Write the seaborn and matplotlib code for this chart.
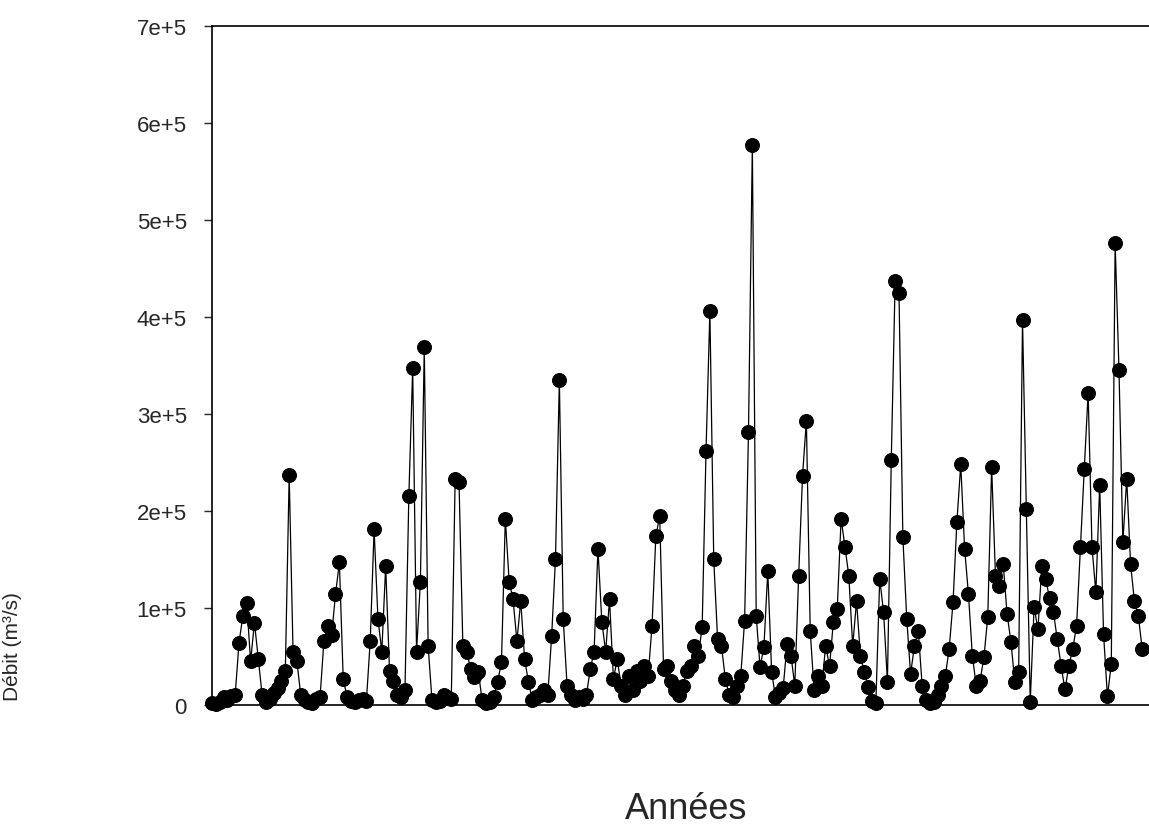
import numpy as np
import pandas as pd
import matplotlib
matplotlib.use("Agg")
import matplotlib.pyplot as plt
from matplotlib.ticker import FuncFormatter
import seaborn as sns

# monthly values, in order
debit = [
    2000, 1000, 3000, 8000, 5000, 9000, 10000, 64000, 92000, 105000,
    45000, 85000, 47000, 10000, 3000, 6000, 12000, 18000, 25000, 35000,
    237000, 55000, 45000, 10000, 5000, 3000, 2000, 6000, 8000, 66000,
    81000, 72000, 114000, 147000, 27000, 8000, 4000, 3000, 5000, 6000,
    4000, 66000, 181000, 89000, 55000, 143000, 35000, 25000, 10000, 8000,
    15000, 215000, 347000, 55000, 127000, 369000, 61000, 5000, 3000, 4000,
    10000, 8000, 6000, 233000, 230000, 61000, 55000, 37000, 29000, 34000,
    5000, 2000, 3000, 8000, 24000, 44000, 192000, 127000, 109000, 66000,
    107000, 47000, 24000, 5000, 8000, 10000, 15000, 10000, 71000, 151000,
    335000, 89000, 20000, 10000, 5000, 8000, 6000, 10000, 37000, 55000,
    161000, 86000, 55000, 109000, 27000, 47000, 20000, 10000, 30000, 15000,
    35000, 25000, 40000, 30000, 81000, 174000, 195000, 37000, 40000, 25000,
    15000, 10000, 20000, 35000, 40000, 61000, 51000, 80000, 262000, 406000,
    150000, 68000, 61000, 27000, 10000, 8000, 20000, 30000, 87000, 281000,
    577000, 92000, 39000, 60000, 138000, 34000, 8000, 12000, 18000, 63000,
    51000, 20000, 133000, 236000, 293000, 76000, 15000, 30000, 20000, 61000,
    40000, 86000, 99000, 192000, 163000, 133000, 61000, 107000, 51000, 34000,
    19000, 4000, 2000, 130000, 96000, 24000, 253000, 437000, 425000, 173000,
    89000, 32000, 61000, 76000, 20000, 5000, 2000, 3000, 10000, 20000,
    30000, 58000, 106000, 189000, 248000, 161000, 114000, 51000, 20000, 25000,
    49000, 91000, 245000, 133000, 123000, 145000, 94000, 65000, 24000, 34000,
    397000, 202000, 3000, 101000, 78000, 143000, 130000, 110000, 96000, 68000,
    40000, 16000, 40000, 58000, 81000, 163000, 243000, 322000, 163000, 116000,
    227000, 73000, 9000, 42000, 476000, 345000, 168000, 233000, 145000, 107000,
    92000, 58000,
]
mois = list(range(len(debit)))

df = pd.DataFrame({"Mois": mois, "Debit": debit})

sns.set_style("white")
plt.rcParams['font.family'] = ['Liberation Sans', 'DejaVu Sans']

fig = plt.figure(figsize=(11.49, 8.29), dpi=100)
ax = fig.add_axes([0.1845, 0.1484, 0.825, 0.819])

sns.lineplot(data=df, x="Mois", y="Debit", ax=ax, color="black", linewidth=0.9,
             marker="o", markersize=10, markeredgecolor="black",
             markerfacecolor="black", alpha=1)
for line in ax.lines:
    line.set_clip_on(False)

ax.set_xlim(0, 245.6)
ax.set_ylim(0, 700000)
ax.set_yticks(np.arange(0, 700001, 100000))
ax.yaxis.set_major_formatter(FuncFormatter(lambda v, p: "0" if v == 0 else f"{int(round(v / 1e5))}e+5"))
ax.set_xticks([])
ax.tick_params(axis="y", direction="out", length=6, width=1, labelsize=16, pad=12, left=True)

for side in ["left", "top", "bottom"]:
    ax.spines[side].set_color("black")
    ax.spines[side].set_linewidth(1.2)
ax.spines["right"].set_visible(False)

ax.set_xlabel("Années", fontsize=26, labelpad=62)
ax.set_ylabel("")
fig.text(0.003, 0.22, "Débit (m³/s)", rotation=90, fontsize=15, va="center", ha="left")

fig.savefig("out.png", dpi=100)
